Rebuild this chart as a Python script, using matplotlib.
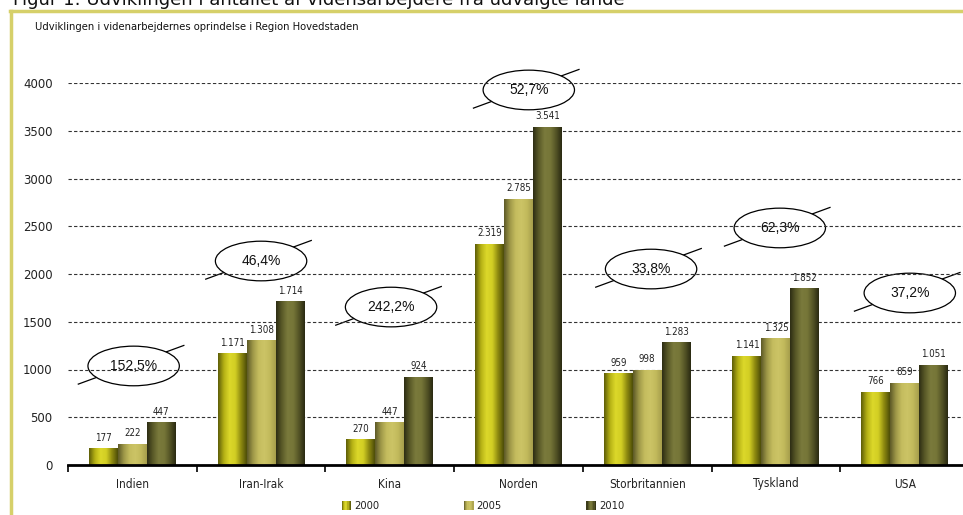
import numpy as np
import matplotlib
matplotlib.use("Agg")
import matplotlib.pyplot as plt
import matplotlib.patches as mpatches
from matplotlib.colors import LinearSegmentedColormap
from matplotlib.legend_handler import HandlerBase
from matplotlib.lines import Line2D

# Data
lande = ["Indien", "Iran-Irak", "Kina", "Norden", "Storbritannien", "Tyskland", "USA"]
aar = ["2000", "2005", "2010"]
v2000 = [177, 1171, 270, 2319, 959, 1141, 766]
v2005 = [222, 1308, 447, 2785, 998, 1325, 859]
v2010 = [447, 1714, 924, 3541, 1283, 1852, 1051]
vaekst = ["152,5%", "46,4%", "242,2%", "52,7%", "33,8%", "62,3%", "37,2%"]

# annotation placement (ellipse centres)
boble_x = [0.01, 0.0, 0.01, 0.08, 0.03, 0.03, 0.04]
boble_y = [1037, 2136, 1654, 3927, 2052, 2482, 1801]

# gradient stops per series (horizontal across each bar)
gradients = {
    "2000": ["#5f5f08", "#b4b015", "#dcd82a", "#d2ce24", "#8e8a10", "#4e4e08"],
    "2005": ["#5e5a28", "#9e9848", "#c4bc5e", "#ccc466", "#c2ba5c", "#a69e4c"],
    "2010": ["#2e2e14", "#5a5a28", "#7a7a3c", "#767638", "#545426", "#2a2a12"],
}

plt.rcParams["font.family"] = "DejaVu Sans"
plt.rcParams["font.stretch"] = "condensed"

fig = plt.figure(figsize=(9.63, 5.15), dpi=100)
ax = fig.add_axes([68 / 963, 50 / 515, 901 / 963, 382 / 515])

x = np.arange(len(lande))
w = 0.225
serier = [v2000, v2005, v2010]

for i, (navn, vals) in enumerate(zip(aar, serier)):
    cmap = LinearSegmentedColormap.from_list(navn, gradients[navn])
    grad = np.linspace(0, 1, 64).reshape(1, -1)
    bars = ax.bar(x + (i - 1) * w, vals, width=w, color=gradients[navn][2], zorder=2)
    for b, v in zip(bars, vals):
        x0 = b.get_x()
        im = ax.imshow(grad, cmap=cmap, extent=(x0, x0 + b.get_width(), 0, b.get_height()),
                       aspect="auto", zorder=3, interpolation="bilinear")
        im.set_clip_path(b)
        lab = f"{v:,}".replace(",", ".")
        ax.annotate(lab, (b.get_x() + b.get_width() / 2, v), xytext=(0, 4),
                    textcoords="offset points", ha="center", va="bottom",
                    fontsize=7, color="#222222", zorder=9)

# growth bubbles (line behind a white ellipse, gridlines stay visible on top)
for i, (txt, dx, cy) in enumerate(zip(vaekst, boble_x, boble_y)):
    cx = i + dx
    ax.plot([cx - 0.43, cx + 0.39], [cy - 190, cy + 215], color="black", lw=0.9,
            zorder=0.2, clip_on=False)
    ell = mpatches.Ellipse((cx, cy), 0.71, 415, facecolor="white", edgecolor="black",
                           lw=0.9, zorder=0.3, clip_on=False)
    ax.add_patch(ell)
    ax.text(cx, cy, txt, ha="center", va="center", fontsize=10, stretch="normal",
            family="Liberation Sans", color="#111111", zorder=8)

ax.set_xlim(-0.5, len(lande) - 0.5)
ax.set_ylim(0, 4000)
ax.set_yticks(np.arange(0, 4001, 500))
ax.tick_params(axis="y", length=0, pad=11, labelsize=8.5, labelcolor="#222222")
for t in ax.get_yticklabels():
    t.set_fontstretch("normal")
ax.set_xticks(x)
ax.set_xticklabels(lande)
ax.set_xticks(np.arange(-0.5, len(lande), 1), minor=True)
ax.tick_params(axis="x", which="major", length=0, pad=9, labelsize=8.5, labelcolor="#222222")
ax.tick_params(axis="x", which="minor", length=5, width=1.2, direction="out")
ax.grid(axis="y", color="#333333", lw=0.8, linestyle=(0, (3, 2)))
ax.set_axisbelow(True)
for s in ["left", "right", "top"]:
    ax.spines[s].set_visible(False)
ax.spines["bottom"].set_linewidth(2)
ax.spines["bottom"].set_zorder(4)


# legend with gradient squares
class GradHandler(HandlerBase):
    def __init__(self, farver):
        super().__init__()
        self.farver = farver

    def create_artists(self, legend, orig_handle, xdescent, ydescent, width, height,
                       fontsize, trans):
        cmap = LinearSegmentedColormap.from_list("h", self.farver)
        n = 8
        out = []
        for k in range(n):
            r = mpatches.Rectangle((-xdescent + k * width / n, -ydescent), width / n + 0.3,
                                   height, facecolor=cmap((k + 0.5) / n), lw=0,
                                   transform=trans)
            out.append(r)
        return out


handles = [mpatches.Patch(label=a) for a in aar]
hmap = {h: GradHandler(gradients[a]) for h, a in zip(handles, aar)}
fig.legend(handles=handles, labels=aar, handler_map=hmap, loc="center",
           bbox_to_anchor=(483 / 963, 9 / 515), ncol=3, frameon=False, fontsize=8,
           handlelength=0.85, handleheight=0.85, handletextpad=0.3, columnspacing=7.6,
           borderpad=0, labelcolor="#222222")

# frame lines and headings
fig.add_artist(Line2D([10 / 963, 1], [1 - 10.5 / 515, 1 - 10.5 / 515], color="#d6d06a",
                      lw=2.5, transform=fig.transFigure))
fig.add_artist(Line2D([11 / 963, 11 / 963], [0, 1 - 10.5 / 515], color="#d6d06a",
                      lw=2.5, transform=fig.transFigure))
fig.text(13 / 963, 1 - 5 / 515, "Figur 1: Udviklingen i antallet af vidensarbejdere fra udvalgte lande",
         fontsize=13, va="baseline", ha="left", color="#111111", stretch="normal")
fig.text(35 / 963, 1 - 27 / 515, "Udviklingen i videnarbejdernes oprindelse i Region Hovedstaden",
         fontsize=8, va="center", ha="left", color="#111111")

fig.savefig("out.png", dpi=100)
